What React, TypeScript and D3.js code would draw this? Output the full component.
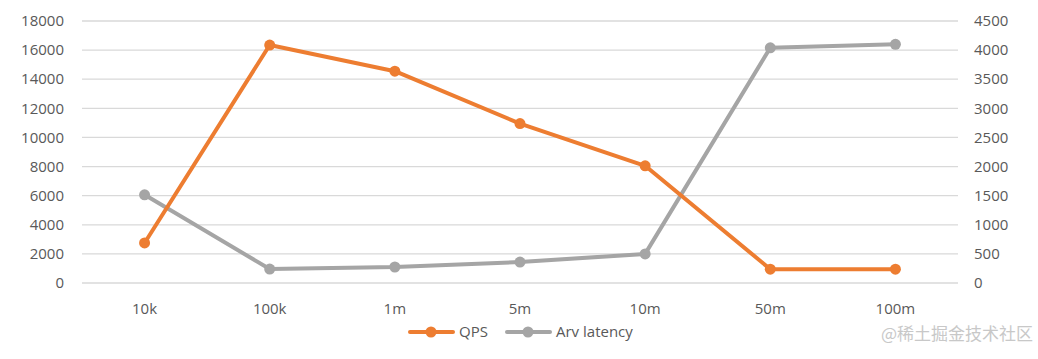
import React, { useEffect, useRef } from 'react';
import * as d3 from 'd3';

const categories = ['10k', '100k', '1m', '5m', '10m', '50m', '100m'];
const qps = [2750, 16350, 14550, 10950, 8050, 950, 950];
const latency = [1515, 240, 275, 360, 500, 4040, 4100];
const leftTicks = [0, 2000, 4000, 6000, 8000, 10000, 12000, 14000, 16000, 18000];
const rightTicks = [0, 500, 1000, 1500, 2000, 2500, 3000, 3500, 4000, 4500];

const ORANGE = '#ED7D31';
const GREY = '#A5A5A5';
const TEXT = '#595959';
const FONT = '"Open Sans", "Liberation Sans", sans-serif';

const App: React.FC = () => {
  const svgRef = useRef<SVGSVGElement>(null);

  useEffect(() => {
    if (!svgRef.current) return;
    const svg = d3.select(svgRef.current);
    svg.selectAll('*').remove();

    const left = 82, right = 958, top = 21, bottom = 283;

    const x = d3.scaleBand().domain(categories).range([left, right]);
    const yL = d3.scaleLinear().domain([0, 18000]).range([bottom, top]);
    const yR = d3.scaleLinear().domain([0, 4500]).range([bottom, top]);

    // gridlines
    svg.append('g')
      .selectAll('line')
      .data(leftTicks)
      .enter()
      .append('line')
      .attr('x1', left)
      .attr('x2', right)
      .attr('y1', d => yL(d))
      .attr('y2', d => yL(d))
      .attr('stroke', '#D9D9D9')
      .attr('stroke-width', 1.3);

    // left axis labels
    svg.append('g')
      .selectAll('text')
      .data(leftTicks)
      .enter()
      .append('text')
      .attr('x', 64)
      .attr('y', d => yL(d))
      .attr('dy', '0.35em')
      .attr('text-anchor', 'end')
      .attr('font-size', 15)
      .attr('font-family', FONT)
      .attr('fill', TEXT)
      .text(d => d);

    // right axis labels
    svg.append('g')
      .selectAll('text')
      .data(rightTicks)
      .enter()
      .append('text')
      .attr('x', 974)
      .attr('y', d => yR(d))
      .attr('dy', '0.35em')
      .attr('text-anchor', 'start')
      .attr('font-size', 15)
      .attr('font-family', FONT)
      .attr('fill', TEXT)
      .text(d => d);

    // category labels
    svg.append('g')
      .selectAll('text')
      .data(categories)
      .enter()
      .append('text')
      .attr('x', d => (x(d) || 0) + x.bandwidth() / 2)
      .attr('y', 309)
      .attr('dy', '0.35em')
      .attr('text-anchor', 'middle')
      .attr('font-size', 15)
      .attr('font-family', FONT)
      .attr('fill', TEXT)
      .text(d => d);

    const cx = (i: number) => (x(categories[i]) || 0) + x.bandwidth() / 2;

    const series = [
      { values: latency, scale: yR, color: GREY },
      { values: qps, scale: yL, color: ORANGE },
    ];

    series.forEach(s => {
      const line = d3.line<number>()
        .x((_, i) => cx(i))
        .y(d => s.scale(d));
      svg.append('path')
        .datum(s.values)
        .attr('d', line)
        .attr('fill', 'none')
        .attr('stroke', s.color)
        .attr('stroke-width', 4)
        .attr('stroke-linejoin', 'round');
      svg.append('g')
        .selectAll('circle')
        .data(s.values)
        .enter()
        .append('circle')
        .attr('cx', (_, i) => cx(i))
        .attr('cy', d => s.scale(d))
        .attr('r', 5.5)
        .attr('fill', s.color);
    });

    // legend
    const legend = [
      { label: 'QPS', color: ORANGE, x: 410 },
      { label: 'Arv latency', color: GREY, x: 507 },
    ];
    const lg = svg.append('g');
    legend.forEach(l => {
      lg.append('line')
        .attr('x1', l.x)
        .attr('x2', l.x + 43)
        .attr('y1', 332)
        .attr('y2', 332)
        .attr('stroke', l.color)
        .attr('stroke-width', 4)
        .attr('stroke-linecap', 'round');
      lg.append('circle')
        .attr('cx', l.x + 21)
        .attr('cy', 332)
        .attr('r', 5.5)
        .attr('fill', l.color);
      lg.append('text')
        .attr('x', l.x + 49)
        .attr('y', 332)
        .attr('dy', '0.35em')
        .attr('font-size', 15)
        .attr('font-family', FONT)
        .attr('fill', TEXT)
        .text(l.label);
    });

    // watermark
    svg.append('text')
      .attr('x', 1033)
      .attr('y', 334)
      .attr('dy', '0.35em')
      .attr('text-anchor', 'end')
      .attr('font-size', 17)
      .attr('font-family', '"Noto Sans CJK SC", sans-serif')
      .attr('fill', '#C8C8C8')
      .text('@稀土掘金技术社区');
  }, []);

  return (
    <div style={{ position: 'absolute', left: 0, top: 0 }}>
      <svg ref={svgRef} width={1038} height={359} style={{ display: 'block', background: '#fff' }}></svg>
    </div>
  );
};

export default App;
